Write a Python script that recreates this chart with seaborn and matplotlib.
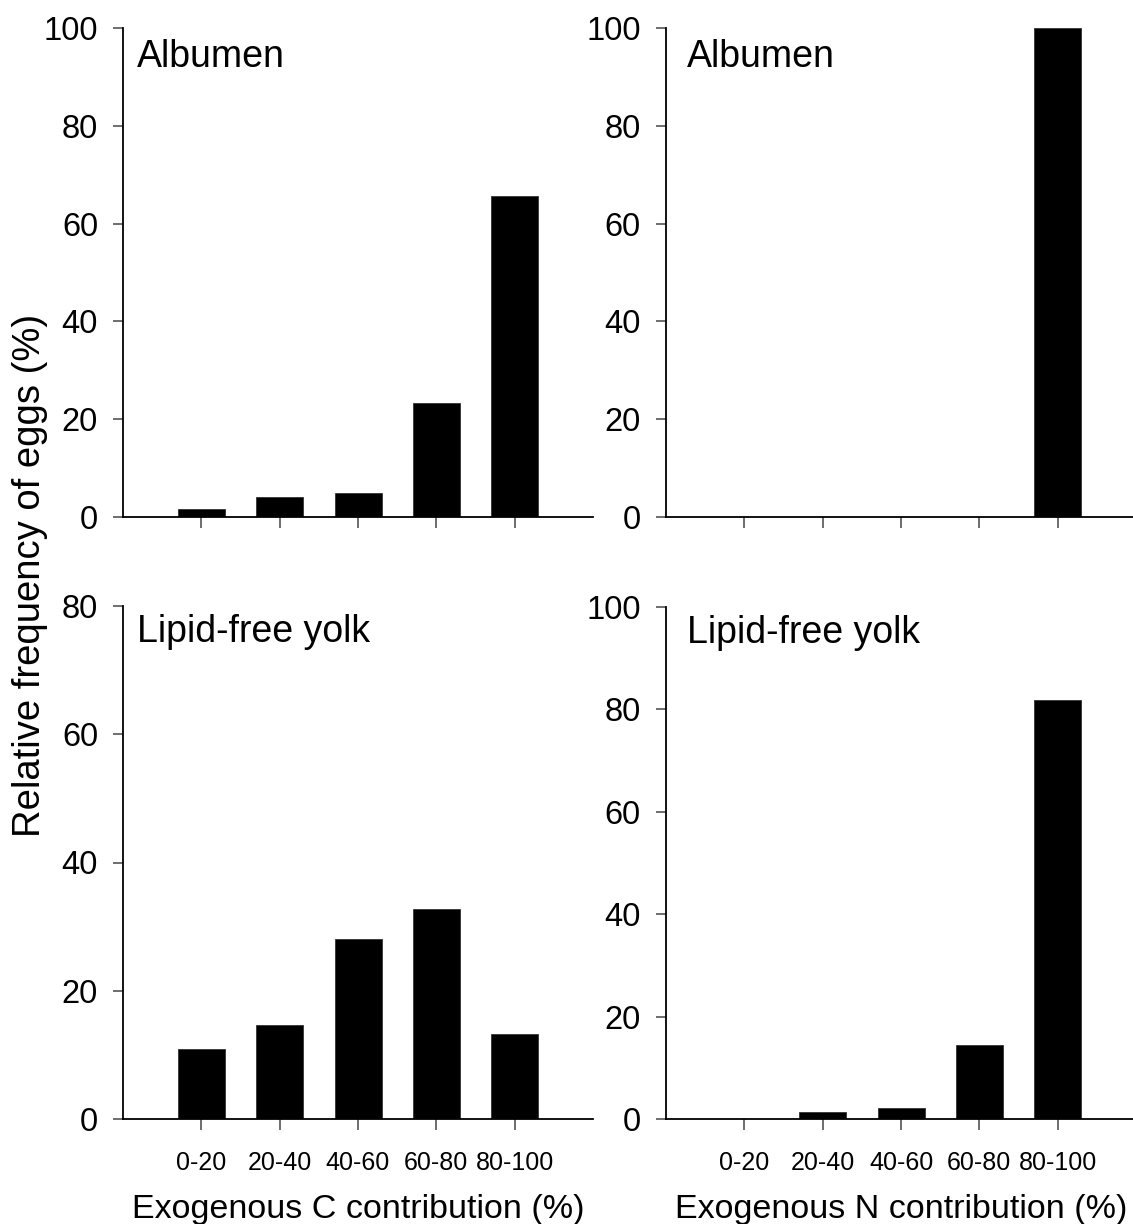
import matplotlib
matplotlib.use("Agg")
import matplotlib.pyplot as plt
import seaborn as sns
import pandas as pd

categories = ["0-20", "20-40", "40-60", "60-80", "80-100"]
albumen_c = [1.6, 4.0, 5.0, 23.3, 65.6]
albumen_n = [0, 0, 0, 0, 100]
yolk_c = [10.9, 14.7, 28.0, 32.8, 13.2]
yolk_n = [0, 1.4, 2.1, 14.5, 81.8]

sns.set_theme(style="ticks")
plt.rcParams['font.family'] = ['Liberation Sans', 'DejaVu Sans']
plt.rcParams['text.color'] = 'black'
plt.rcParams['axes.labelcolor'] = 'black'
plt.rcParams['xtick.color'] = 'black'
plt.rcParams['ytick.color'] = 'black'

W, H = 1133, 1224
fig = plt.figure(figsize=(W / 100, H / 100), dpi=100)

def px_axes(l, t, r, b):
    return fig.add_axes([l / W, 1 - b / H, (r - l) / W, (b - t) / H])

panels = [
    (px_axes(123, 28, 593, 517), albumen_c, "Albumen", 100, False, None, 0.03),
    (px_axes(666, 28, 1136, 517), albumen_n, "Albumen", 100, False, None, 0.045),
    (px_axes(123, 606, 593, 1119), yolk_c, "Lipid-free yolk", 80, True,
     "Exogenous C contribution (%)", 0.03),
    (px_axes(666, 607, 1136, 1119), yolk_n, "Lipid-free yolk", 100, True,
     "Exogenous N contribution (%)", 0.045),
]

for ax, vals, title, ymax, show_x, xlabel, tx in panels:
    df = pd.DataFrame({"cat": categories, "val": vals})
    sns.barplot(data=df, x="cat", y="val", color="black", saturation=1,
                width=0.6, edgecolor="#333333", linewidth=0.6, ax=ax)
    ax.set_xlim(-1.0, 5.0)
    ax.set_ylim(0, ymax)
    ax.set_yticks(range(0, ymax + 1, 20))
    ax.tick_params(axis='y', labelsize=23.5, length=7, width=1.2, color="#555555",
                   labelcolor="black", pad=11)
    ax.tick_params(axis='x', length=8, width=1.2, color="#555555",
                   labelcolor="black", pad=15)
    for s in ["top", "right"]:
        ax.spines[s].set_visible(False)
    for s in ["left", "bottom"]:
        ax.spines[s].set_linewidth(1.3)
        ax.spines[s].set_color("black")
    ax.set_ylabel("")
    ax.set_xticks(range(5))
    if show_x:
        ax.set_xticklabels(categories, fontsize=18)
        ax.set_xlabel(xlabel, fontsize=24.5, labelpad=14, color="black")
    else:
        ax.set_xticklabels([])
        ax.set_xlabel("")
    ytxt = 0.94 if not show_x else 0.949
    ax.text(tx, ytxt, title, transform=ax.transAxes, fontsize=27,
            va="center", ha="left", color="black")

fig.text(30 / W, 1 - 575 / H, "Relative frequency of eggs (%)", rotation=90,
         fontsize=27.5, va="center", ha="center", color="black")

fig.savefig("out.png", dpi=100)
